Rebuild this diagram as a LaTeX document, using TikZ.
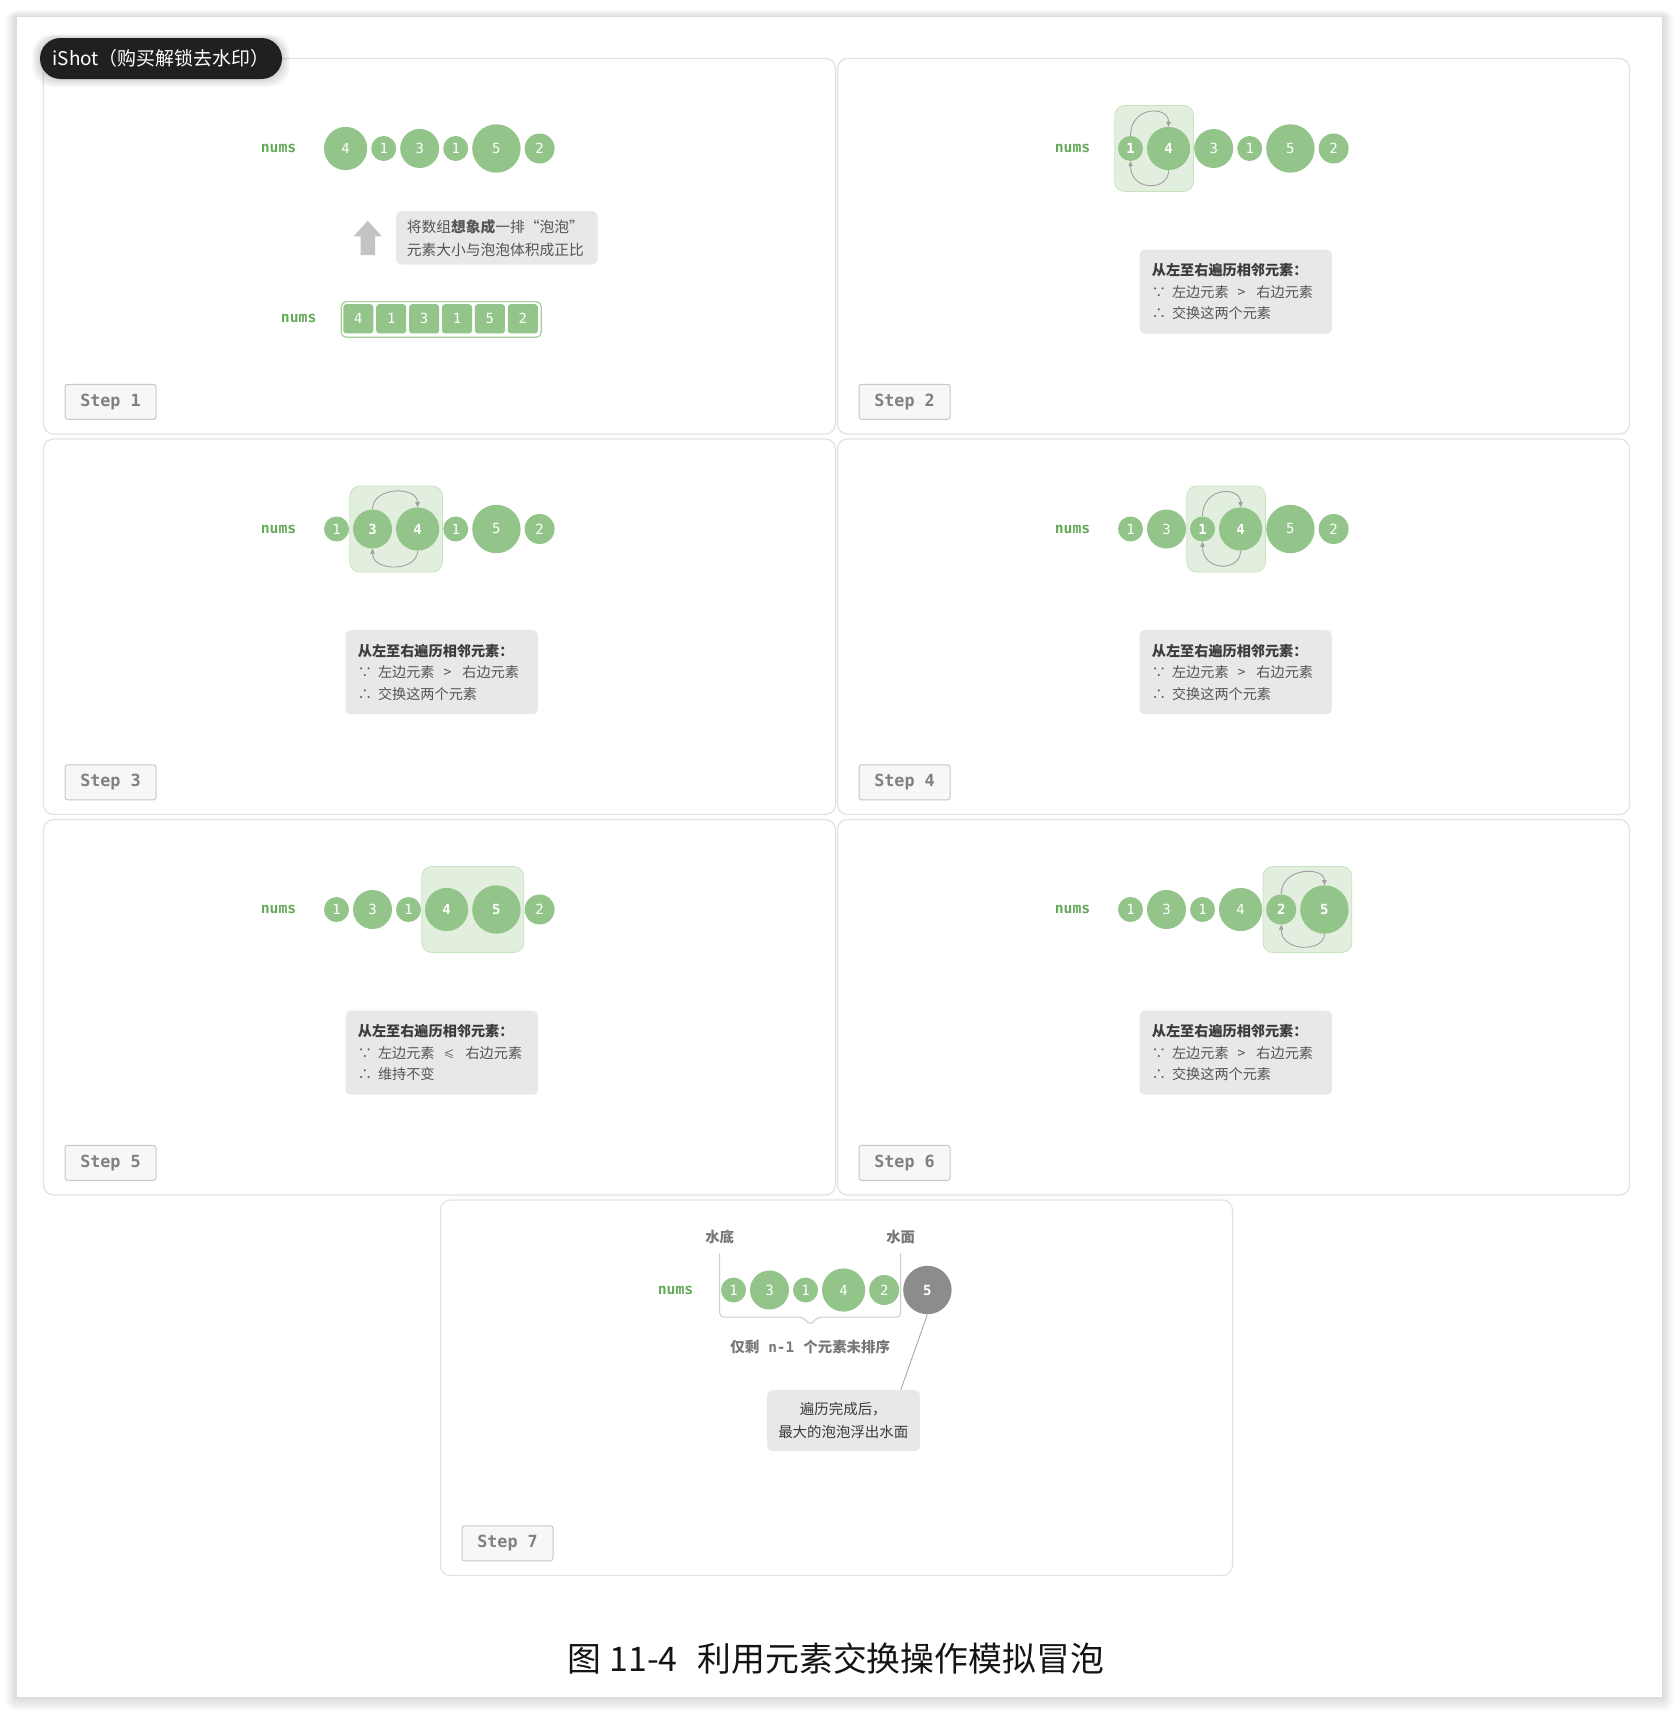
\documentclass[tikz,border=0pt]{standalone}
\usepackage{fontspec}
\setmainfont{Noto Sans CJK SC}
\newfontfamily\mono{DejaVu Sans Mono}
\usetikzlibrary{calc,arrows.meta}
\pgfdeclarelayer{page}\pgfdeclarelayer{bgzero}\pgfdeclarelayer{bgone}
\pgfsetlayers{page,bgzero,bgone,main}
\definecolor{bubgreen}{RGB}{147,196,138}
\definecolor{numsgreen}{RGB}{100,170,88}
\definecolor{hlfill}{RGB}{226,239,222}
\definecolor{hlborder}{RGB}{200,226,192}
\definecolor{calloutfill}{RGB}{232,232,232}
\definecolor{panelborder}{RGB}{226,226,226}
\definecolor{badgefill}{RGB}{247,247,247}
\definecolor{badgeborder}{RGB}{200,200,200}
\definecolor{badgetext}{RGB}{128,128,128}
\definecolor{textdark}{RGB}{60,60,60}
\definecolor{textmid}{RGB}{85,85,85}
\definecolor{arrowgray}{RGB}{160,160,160}
\definecolor{bubgray}{RGB}{140,140,140}
\definecolor{uparrow}{RGB}{195,195,195}
\definecolor{framegreen}{RGB}{165,208,155}
\definecolor{labelgray}{RGB}{120,120,120}
\definecolor{bracketgray}{RGB}{205,205,205}
\definecolor{ishotfill}{RGB}{32,32,32}
\definecolor{captext}{RGB}{20,20,20}
\expandafter\def\csname rad1\endcsname{12.5}
\expandafter\def\csname rad2\endcsname{15}
\expandafter\def\csname rad3\endcsname{19.5}
\expandafter\def\csname rad4\endcsname{21.6}
\expandafter\def\csname rad5\endcsname{24.2}
\newcommand\setpanel[2]{\xdef\px{#1}\xdef\py{#2}%
  \begin{pgfonlayer}{bgzero}\draw[panelbox] (#1,#2) rectangle ++(792,375.5);\end{pgfonlayer}}
\newcommand\numslabel[3][253]{\node[numstext] (#2) at ({\px+#1},{\py+#3}) {nums};}
\newcommand\stepbadge[2]{\node[stepbox] (#1) at ({\px+67},{\py+343.3}) {Step #2};}
\newcommand\chainstart{\pgfmathsetmacro\tmpx{\px+280.5}\xdef\curx{\tmpx}%
  \pgfmathsetmacro\tmpy{\py+90}\xdef\cury{\tmpy}}
\newcommand\bub[3][]{%
  \pgfmathsetmacro\rr{\csname rad#3\endcsname}%
  \pgfmathsetmacro\cx{\curx+\rr}%
  \node[bubble,minimum size=2*\rr*1bp,#1] (#2) at (\cx,\cury) {#3};%
  \pgfmathsetmacro\nx{\cx+\rr+4}%
  \xdef\curx{\nx}}
\newcommand\hl[2]{\begin{pgfonlayer}{bgone}\draw[hlbox] ($(#1.west)+(-3,-43)$) rectangle ($(#2.east)+(3,43)$);\end{pgfonlayer}}
\newcommand\swap[2]{%
  \draw[swaparrow] (#1.north) .. controls ($(#1.center)+(0,-43)$) and ($(#2.center)+(0,-43)$) .. (#2.north);
  \draw[swaparrow] (#2.south) .. controls ($(#2.center)+(0,43)$) and ($(#1.center)+(0,43)$) .. (#1.south);}
\newcommand\infobox[4]{%
  \node[calloutbox,minimum width=192.4bp,minimum height=84bp,anchor=north west] (#1) at ({\px+301.8},{\py+191}) {};
  \node[infotitle] (#1t) at ($(#1.north west)+(12.4,20.7)$) {#2};
  \node[infotext] (#1a) at ($(#1.north west)+(12.4,42.4)$) {#3};
  \node[infotext] (#1b) at ($(#1.north west)+(12.4,64)$) {#4};}
\begin{document}
\begin{tikzpicture}[x=1bp,y=-1bp,
 bubble/.style={circle,fill=bubgreen,inner sep=0pt,text=white,font=\mono\fontsize{14}{14}\selectfont},
 hot/.style={font=\mono\bfseries\fontsize{14}{14}\selectfont},
 grayb/.style={fill=bubgray,font=\mono\bfseries\fontsize{14}{14}\selectfont},
 numstext/.style={anchor=east,inner sep=0pt,text=numsgreen,font=\mono\bfseries\fontsize{14.8}{15}\selectfont},
 panelbox/.style={draw=panelborder,fill=white,line width=1.2bp,rounded corners=10bp},
 stepbox/.style={draw=badgeborder,fill=badgefill,line width=1bp,rounded corners=2.5bp,minimum width=91bp,minimum height=35bp,inner sep=0pt,text=badgetext,font=\mono\bfseries\fontsize{16.8}{17}\selectfont},
 calloutbox/.style={fill=calloutfill,rounded corners=5bp,inner sep=0pt},
 hlbox/.style={fill=hlfill,draw=hlborder,line width=0.8bp,rounded corners=10bp},
 swaparrow/.style={draw=arrowgray,line width=0.9bp,-{Triangle[length=5bp,width=4.5bp]}},
 infotitle/.style={anchor=west,inner sep=0pt,text=textdark,font=\bfseries\fontsize{14.2}{17}\selectfont},
 infotext/.style={anchor=west,inner sep=0pt,text=textmid,font=\fontsize{14.2}{17}\selectfont},
 cell/.style={fill=bubgreen,rounded corners=3bp,minimum width=30bp,minimum height=29.3bp,inner sep=0pt,text=white,font=\mono\fontsize{14}{14}\selectfont},
 arrayframe/.style={draw=framegreen,fill=white,line width=1.2bp,rounded corners=5bp,minimum width=200bp,minimum height=35.7bp,inner sep=0pt},
 notetext/.style={anchor=west,inner sep=0pt,text=textmid,font=\fontsize{14.8}{17}\selectfont},
 graylabel/.style={inner sep=0pt,text=labelgray,font=\bfseries\fontsize{14.5}{17}\selectfont},
 bracketline/.style={draw=bracketgray,line width=1bp,rounded corners=4bp},
 leader/.style={draw=arrowgray,line width=0.8bp},
 centertext/.style={inner sep=0pt,text=textdark,font=\fontsize{14.5}{17}\selectfont},
 ishot/.style={fill=ishotfill,text=white,rounded corners=20.5bp,minimum width=242bp,minimum height=41bp,inner sep=0pt,font=\fontsize{19}{20}\selectfont},
 caption/.style={inner sep=0pt,text=captext,font=\fontsize{34}{36}\selectfont}]
\useasboundingbox (0,0) rectangle (1680,1715);
\begin{pgfonlayer}{page}
\fill[white] (0,0) rectangle (1680,1715);
\foreach \d in {1,...,12} \fill[black,opacity=0.012,rounded corners=\d bp] ({17-\d},{17-0.6*\d}) rectangle ({1662+\d},{1697+1.2*\d});
\fill[white] (17,17) rectangle (1662,1697);
\end{pgfonlayer}
% ---------- Step 1
\setpanel{43.5}{58.5}
\numslabel{n1}{90}
\chainstart
\bub{s1a}{4}\bub{s1b}{1}\bub{s1c}{3}\bub{s1d}{1}\bub{s1e}{5}\bub{s1f}{2}
\fill[uparrow] ({\px+324.2},{\py+162.2}) -- ({\px+338.2},{\py+177.8}) -- ({\px+331.5},{\py+177.8}) -- ({\px+331.5},{\py+196.5}) -- ({\px+317.2},{\py+196.5}) -- ({\px+317.2},{\py+177.8}) -- ({\px+310.2},{\py+177.8}) -- cycle;
\node[calloutbox,minimum width=201.3bp,minimum height=53.3bp,anchor=north west] (note1) at ({\px+352.5},{\py+152.5}) {};
\node[notetext] (note1a) at ({\px+363.2},{\py+168.2}) {将数组{\bfseries 想象成}一排“泡泡”};
\node[notetext] (note1b) at ({\px+363.2},{\py+191.5}) {元素大小与泡泡体积成正比};
\numslabel[273.2]{n1b}{260.3}
\node[arrayframe,anchor=north west] (arr) at ({\px+297.2},{\py+242.5}) {};
\foreach \v [count=\i from 0] in {4,1,3,1,5,2}
  \node[cell] (cell\i) at ({\px+314.8+\i*32.9},{\py+260.3}) {\v};
\stepbadge{b1}{1}
% ---------- Step 2
\setpanel{837.5}{58.5}
\numslabel{n2}{90}
\chainstart
\bub[hot]{s2a}{1}\bub[hot]{s2b}{4}\bub{s2c}{3}\bub{s2d}{1}\bub{s2e}{5}\bub{s2f}{2}
\hl{s2a}{s2b}\swap{s2a}{s2b}
\infobox{i2}{从左至右遍历相邻元素：}{∵\hspace{6bp}左边元素\hspace{9bp}>\hspace{11bp}右边元素}{∴\hspace{6bp}交换这两个元素}
\stepbadge{b2}{2}
% ---------- Step 3
\setpanel{43.5}{439}
\numslabel{n3}{90}
\chainstart
\bub{s3a}{1}\bub[hot]{s3b}{3}\bub[hot]{s3c}{4}\bub{s3d}{1}\bub{s3e}{5}\bub{s3f}{2}
\hl{s3b}{s3c}\swap{s3b}{s3c}
\infobox{i3}{从左至右遍历相邻元素：}{∵\hspace{6bp}左边元素\hspace{9bp}>\hspace{11bp}右边元素}{∴\hspace{6bp}交换这两个元素}
\stepbadge{b3}{3}
% ---------- Step 4
\setpanel{837.5}{439}
\numslabel{n4}{90}
\chainstart
\bub{s4a}{1}\bub{s4b}{3}\bub[hot]{s4c}{1}\bub[hot]{s4d}{4}\bub{s4e}{5}\bub{s4f}{2}
\hl{s4c}{s4d}\swap{s4c}{s4d}
\infobox{i4}{从左至右遍历相邻元素：}{∵\hspace{6bp}左边元素\hspace{9bp}>\hspace{11bp}右边元素}{∴\hspace{6bp}交换这两个元素}
\stepbadge{b4}{4}
% ---------- Step 5
\setpanel{43.5}{819.5}
\numslabel{n5}{90}
\chainstart
\bub{s5a}{1}\bub{s5b}{3}\bub{s5c}{1}\bub[hot]{s5d}{4}\bub[hot]{s5e}{5}\bub{s5f}{2}
\hl{s5d}{s5e}
\infobox{i5}{从左至右遍历相邻元素：}{∵\hspace{6bp}左边元素\hspace{9bp}{\fontsize{11}{12}\selectfont ≤}\hspace{11bp}右边元素}{∴\hspace{6bp}维持不变}
\stepbadge{b5}{5}
% ---------- Step 6
\setpanel{837.5}{819.5}
\numslabel{n6}{90}
\chainstart
\bub{s6a}{1}\bub{s6b}{3}\bub{s6c}{1}\bub{s6d}{4}\bub[hot]{s6e}{2}\bub[hot]{s6f}{5}
\hl{s6e}{s6f}\swap{s6e}{s6f}
\infobox{i6}{从左至右遍历相邻元素：}{∵\hspace{6bp}左边元素\hspace{9bp}>\hspace{11bp}右边元素}{∴\hspace{6bp}交换这两个元素}
\stepbadge{b6}{6}
% ---------- Step 7
\setpanel{440.5}{1200}
\numslabel{n7}{90}
\chainstart
\bub{s7a}{1}\bub{s7b}{3}\bub{s7c}{1}\bub{s7d}{4}\bub{s7e}{2}\bub[grayb]{s7f}{5}
\node[graylabel] (bottomlbl) at ({\px+279.2},{\py+37.3}) {水底};
\node[graylabel] (toplbl) at ({\px+460.2},{\py+37.3}) {水面};
\coordinate (brL) at ({\px+279.2},{\py+53});
\coordinate (brA) at ({\px+362},{\py+117});
\coordinate (brTip) at ({\px+369.7},{\py+125});
\coordinate (brB) at ({\px+377.4},{\py+117});
\coordinate (brR) at ({\px+460.2},{\py+53});
\draw[bracketline] (brL) |- (brA) -- (brTip) -- (brB) -| (brR);
\node[graylabel] (restlbl) at ({\px+369.7},{\py+146.7}) {仅剩\hspace{9bp}{\mono n-1}\hspace{9bp}个元素未排序};
\node[calloutbox,minimum width=153.1bp,minimum height=60.7bp,anchor=north west] (note7) at ({\px+326.3},{\py+190}) {};
\coordinate (note7top) at ($(note7.north west)+(133.9,0)$);
\draw[leader] (s7f.south) -- (note7top);
\node[centertext] (note7a) at ($(note7.north west)+(76.5,19.3)$) {遍历完成后，};
\node[centertext] (note7b) at ($(note7.north west)+(76.5,42.3)$) {最大的泡泡浮出水面};
\stepbadge{b7}{7}
% ---------- iShot badge
\foreach \d in {1,...,8} \fill[black,opacity=0.02,rounded corners=20bp] ({40-\d},{38-0.5*\d}) rectangle ({282+\d},{79+\d});
\node[ishot] (ishotbadge) at (161,58.5) {iShot（购买解锁去水印）};
% ---------- caption
\node[caption] (cap) at (836,1659) {图 11-4\hspace{20bp}利用元素交换操作模拟冒泡};
\end{tikzpicture}
\end{document}
